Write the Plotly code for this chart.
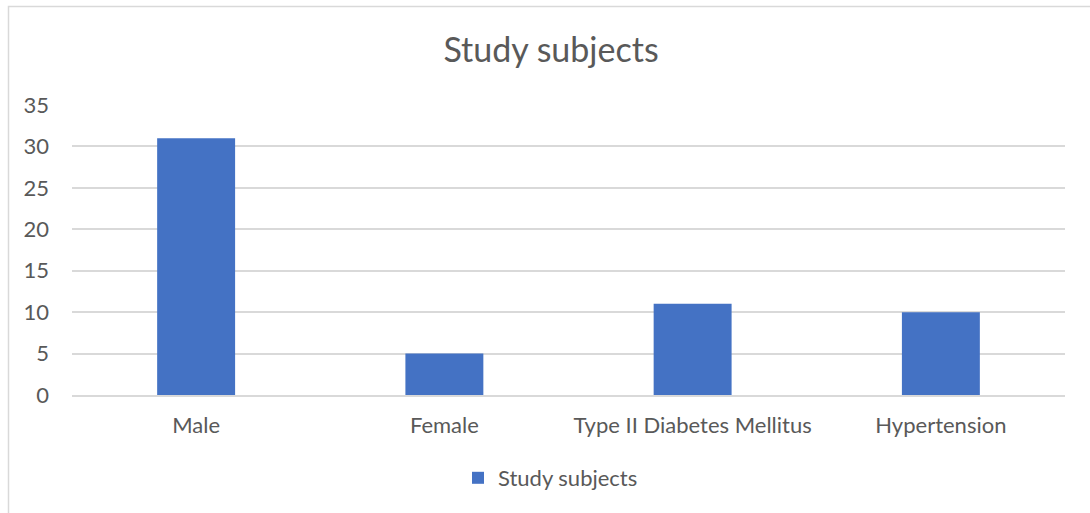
import plotly.graph_objects as go

categories = ["Male", "Female", "Type II Diabetes Mellitus", "Hypertension"]
counts = [31, 5, 11, 10]
series_name = "Study subjects"

W, H = 1090, 513
L, R, T, B = 72, 25, 105, 118
pw, ph = W - L - R, H - T - B

fig = go.Figure(
    go.Bar(
        x=categories,
        y=counts,
        name=series_name,
        marker=dict(color="#4472C4", line=dict(width=0)),
        showlegend=True,
    )
)

font_family = "Lato, 'Open Sans', sans-serif"
grey = "#595959"

# chart-area frame (drawn in paper coordinates relative to the plot area)
fig.add_shape(
    type="rect", xref="paper", yref="paper",
    x0=(8.5 - L) / pw, x1=(W + 5 - L) / pw,
    y0=(H - B - (H + 5)) / ph, y1=(H - B - 6.5) / ph,
    line=dict(color="#d9d9d9", width=1.5), fillcolor="rgba(0,0,0,0)", layer="below",
)

fig.update_layout(
    width=W, height=H,
    margin=dict(l=L, r=R, t=T, b=B),
    paper_bgcolor="white", plot_bgcolor="white",
    font=dict(family=font_family, color=grey, size=22),
    title=dict(text=series_name, x=(551 / W), xanchor="center", y=(H - 50) / H, yanchor="middle",
               font=dict(size=34, color=grey, family=font_family)),
    bargap=0.686,
    xaxis=dict(showgrid=False, showline=True, linecolor="#d9d9d9", linewidth=1.5,
               ticks="", tickfont=dict(size=22, color=grey), ticklabelstandoff=10),
    yaxis=dict(range=[0, 35], dtick=5, showgrid=True, gridcolor="#d9d9d9", gridwidth=1.5,
               zeroline=False, showline=False, ticks="",
               tickfont=dict(size=22, color=grey), ticklabelstandoff=22),
    legend=dict(orientation="h", x=0.5 - 18 / pw, xanchor="center", y=-(478 - (H - B)) / ph,
                yanchor="middle", font=dict(size=22, color=grey), itemwidth=30),
)

fig.write_html("out.html")
